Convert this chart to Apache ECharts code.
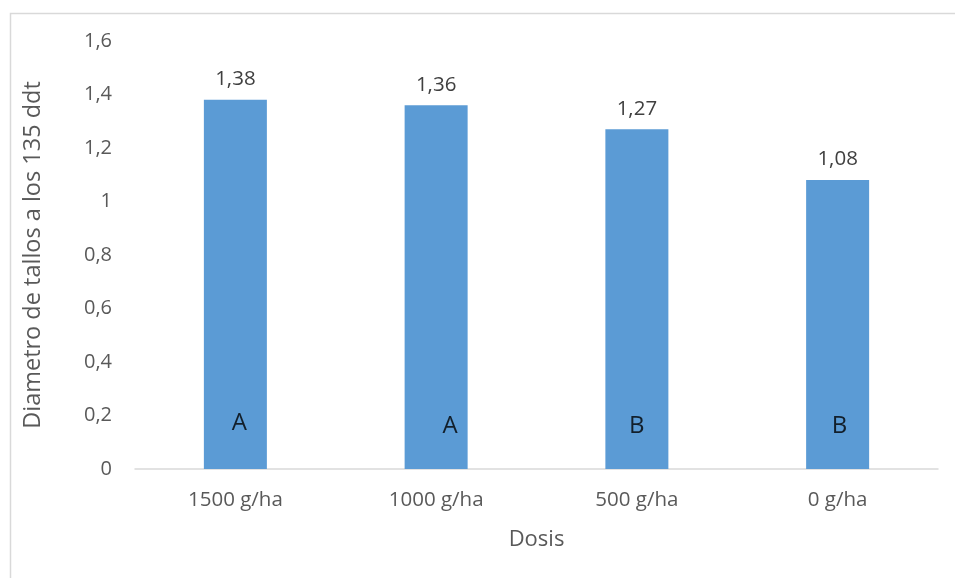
<!DOCTYPE html>
<html>
<head>
<meta charset="utf-8">
<script src="https://cdn.jsdelivr.net/npm/echarts@6/dist/echarts.min.js"></script>
<style>html,body{margin:0;padding:0;background:#fff}#c{width:955px;height:578px}</style>
</head>
<body>
<div id="c"></div>
<script>
const categories = ['1500 g/ha', '1000 g/ha', '500 g/ha', '0 g/ha'];
const values = [1.38, 1.36, 1.27, 1.08];
const letters = ['A', 'A', 'B', 'B'];
const letterLevels = [0.172, 0.161, 0.161, 0.161];
const yTicks = [0, 0.2, 0.4, 0.6, 0.8, 1, 1.2, 1.4, 1.6];

const fmt = v => String(v).replace('.', ',');
const letterOffsets = [4, 14, 0, 2];
const font = '"Open Sans", sans-serif';

const chart = echarts.init(document.getElementById('c'));
chart.setOption({
  animation: false,
  backgroundColor: '#fff',
  graphic: [{
    type: 'rect', left: 8, top: 11, silent: true,
    shape: { width: 1000, height: 600 },
    style: { fill: 'none', stroke: '#d9d9d9', lineWidth: 1.5 }
  }],
  grid: { left: 135, right: 17, top: 41, bottom: 109 },
  xAxis: {
    type: 'category', data: categories,
    name: 'Dosis', nameLocation: 'middle', nameGap: 60,
    nameTextStyle: { fontFamily: font, fontSize: 22, color: '#595959' },
    axisLine: { lineStyle: { color: '#d9d9d9', width: 1.5 } },
    axisTick: { show: false },
    axisLabel: { fontFamily: font, fontSize: 20.5, color: '#595959', margin: 21 }
  },
  yAxis: {
    type: 'value', min: 0, max: yTicks[yTicks.length - 1], interval: 0.2,
    name: 'Diametro de tallos a los 135 ddt', nameLocation: 'middle', nameGap: 90,
    nameTextStyle: { fontFamily: font, fontSize: 23.5, color: '#595959' },
    axisLine: { show: false }, axisTick: { show: false },
    splitLine: { show: false },
    axisLabel: { fontFamily: font, fontSize: 20, color: '#595959', margin: 23,
      formatter: v => fmt(Math.round(v * 10) / 10) }
  },
  series: [{
    type: 'bar', data: values, barWidth: 63,
    itemStyle: { color: '#5B9BD5' },
    label: { show: true, position: 'top', distance: 10, fontFamily: font, fontSize: 20.5,
      color: '#404040', formatter: p => fmt(p.value) }
  }, {
    type: 'scatter', symbolSize: 1, itemStyle: { color: 'rgba(0,0,0,0)' },
    data: letters.map((l, i) => ({
      value: [i, letterLevels[i]],
      label: { show: true, position: 'inside', offset: [letterOffsets[i], 0],
        formatter: l, fontFamily: font, fontSize: 24, color: '#000' }
    })),
    z: 5
  }]
});
</script>
</body>
</html>
